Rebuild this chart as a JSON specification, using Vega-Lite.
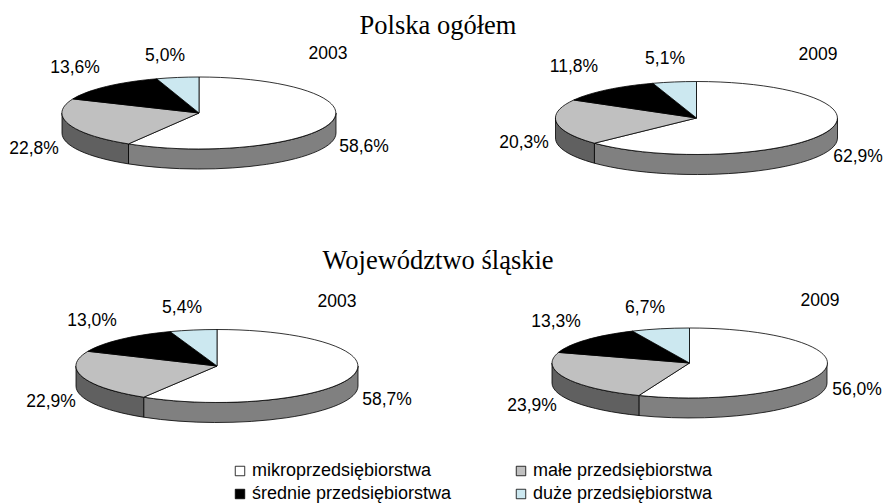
{
"$schema":"https://vega.github.io/schema/vega-lite/v6.json",
"width":884,"height":504,"padding":0,"autosize":"none","background":"white",
"config":{"view":{"stroke":null}},
"params":[{"name":"off","value":{
"PL03m":[156,32],"PL03a":[-174,34],"PL03s":[-133,-47],"PL03d":[-43,-59],"PL03":[120,-61],
"PL09m":[165,42],"PL09a":[-169,28],"PL09s":[-119,-48],"PL09d":[-28,-56],"PL09":[125,-60],
"SL03m":[179,35],"SL03a":[-157,37],"SL03s":[-116,-44],"SL03d":[-26,-57],"SL03":[129,-63],
"SL09m":[164,25],"SL09a":[-161,41],"SL09s":[-137,-43],"SL09d":[-48,-57],"SL09":[127,-64],
"Polska ogółem":[0,-89],"Województwo śląskie":[0,-104]}}],
"datasets":{
"slices":[
{"region":"Polska ogółem","year":"2003","slice":"mikroprzedsiębiorstwa","id":"PL03m","value":58.6,"label":"58,6%"},
{"region":"Polska ogółem","year":"2003","slice":"małe przedsiębiorstwa","id":"PL03a","value":22.8,"label":"22,8%"},
{"region":"Polska ogółem","year":"2003","slice":"średnie przedsiębiorstwa","id":"PL03s","value":13.6,"label":"13,6%"},
{"region":"Polska ogółem","year":"2003","slice":"duże przedsiębiorstwa","id":"PL03d","value":5.0,"label":"5,0%"},
{"region":"Polska ogółem","year":"2009","slice":"mikroprzedsiębiorstwa","id":"PL09m","value":62.9,"label":"62,9%"},
{"region":"Polska ogółem","year":"2009","slice":"małe przedsiębiorstwa","id":"PL09a","value":20.3,"label":"20,3%"},
{"region":"Polska ogółem","year":"2009","slice":"średnie przedsiębiorstwa","id":"PL09s","value":11.8,"label":"11,8%"},
{"region":"Polska ogółem","year":"2009","slice":"duże przedsiębiorstwa","id":"PL09d","value":5.1,"label":"5,1%"},
{"region":"Województwo śląskie","year":"2003","slice":"mikroprzedsiębiorstwa","id":"SL03m","value":58.7,"label":"58,7%"},
{"region":"Województwo śląskie","year":"2003","slice":"małe przedsiębiorstwa","id":"SL03a","value":22.9,"label":"22,9%"},
{"region":"Województwo śląskie","year":"2003","slice":"średnie przedsiębiorstwa","id":"SL03s","value":13.0,"label":"13,0%"},
{"region":"Województwo śląskie","year":"2003","slice":"duże przedsiębiorstwa","id":"SL03d","value":5.4,"label":"5,4%"},
{"region":"Województwo śląskie","year":"2009","slice":"mikroprzedsiębiorstwa","id":"SL09m","value":56.0,"label":"56,0%"},
{"region":"Województwo śląskie","year":"2009","slice":"małe przedsiębiorstwa","id":"SL09a","value":23.9,"label":"23,9%"},
{"region":"Województwo śląskie","year":"2009","slice":"średnie przedsiębiorstwa","id":"SL09s","value":13.3,"label":"13,3%"},
{"region":"Województwo śląskie","year":"2009","slice":"duże przedsiębiorstwa","id":"SL09d","value":6.7,"label":"6,7%"}
],
"panels":[
{"region":"Polska ogółem","year":"2003","id":"PL03"},
{"region":"Polska ogółem","year":"2009","id":"PL09"},
{"region":"Województwo śląskie","year":"2003","id":"SL03"},
{"region":"Województwo śląskie","year":"2009","id":"SL09"}
],
"titles":[{"region":"Polska ogółem"},{"region":"Województwo śląskie"}]
},
"encoding":{
"x":{"field":"year","type":"nominal","axis":null,"scale":{"type":"point","domain":["2003","2009"],"range":[208,693],"padding":0}},
"y":{"field":"region","type":"nominal","axis":null,"scale":{"type":"point","domain":["Polska ogółem","Województwo śląskie"],"range":[115,365],"padding":0}}
},
"resolve":{"scale":{"shape":"independent","color":"independent"}},
"layer":[
{"data":{"name":"slices"},
"transform":[{"filter":"indexof(['mikroprzedsiębiorstwa','małe przedsiębiorstwa'],datum.slice)>=0"}],
"mark":{"type":"point","filled":true,"size":4,"opacity":1,"stroke":"black","strokeWidth":0.8},
"encoding":{
"color":{"field":"slice","type":"nominal","legend":null,"scale":{"domain":["mikroprzedsiębiorstwa","małe przedsiębiorstwa"],"range":["#808080","#606060"]}},
"shape":{"field":"id","type":"nominal","legend":null,"scale":{"domain":["PL03m","PL03a","PL09m","PL09a","SL03m","SL03a","SL09m","SL09a"],"range":[
"M128 -2 L128 18 A137 36 0 0 1 -79.5 48.9 L-79.5 28.9 A137 36 0 0 0 128 -2 Z",
"M-79.5 28.9 L-79.5 48.9 A137 36 0 0 1 -146 18 L-146 -2 A137 36 0 0 0 -79.5 28.9 Z",
"M144.5 3 L144.5 23 A141 36.5 0 0 1 -98.6 48.2 L-98.6 28.2 A141 36.5 0 0 0 144.5 3 Z",
"M-98.6 28.2 L-98.6 48.2 A141 36.5 0 0 1 -137.5 23 L-137.5 3 A141 36.5 0 0 0 -98.6 28.2 Z",
"M150 1 L150 21 A141 36.5 0 0 1 -64.3 52.2 L-64.3 32.2 A141 36.5 0 0 0 150 1 Z",
"M-64.3 32.2 L-64.3 52.2 A141 36.5 0 0 1 -132 21 L-132 1 A141 36.5 0 0 0 -64.3 32.2 Z",
"M134 -2 L134 18 A137.5 35 0 0 1 -54.1 50.5 L-54.1 30.5 A137.5 35 0 0 0 134 -2 Z",
"M-54.1 30.5 L-54.1 50.5 A137.5 35 0 0 1 -141 18 L-141 -2 A137.5 35 0 0 0 -54.1 30.5 Z"
]}}
}},
{"data":{"name":"slices"},
"mark":{"type":"point","filled":true,"size":4,"opacity":1,"stroke":"black","strokeWidth":0.8},
"encoding":{
"color":{"field":"slice","type":"nominal","scale":{"domain":["mikroprzedsiębiorstwa","średnie przedsiębiorstwa","małe przedsiębiorstwa","duże przedsiębiorstwa"],"range":["#ffffff","#000000","#c0c0c0","#cce8f0"]},
"legend":{"title":null,"orient":"none","legendX":231,"legendY":462,"columns":2,"columnPadding":60,"rowPadding":5,"symbolType":"square","symbolSize":90,"symbolStrokeColor":"black","symbolStrokeWidth":0.8,"symbolOpacity":1,"labelFont":"Liberation Sans","labelFontSize":18,"labelColor":"black","labelOffset":3,"labelLimit":400}},
"shape":{"field":"id","type":"nominal","legend":null,"scale":{"domain":["PL03m","PL03a","PL03s","PL03d","PL09m","PL09a","PL09s","PL09d","SL03m","SL03a","SL03s","SL03d","SL09m","SL09a","SL09s","SL09d"],"range":[
"M-9 -2 L-9 -38 A137 36 0 1 1 -79.5 28.9 Z",
"M-9 -2 L-79.5 28.9 A137 36 0 0 1 -135.1 -16.1 Z",
"M-9 -2 L-135.1 -16.1 A137 36 0 0 1 -51.3 -36.2 Z",
"M-9 -2 L-51.3 -36.2 A137 36 0 0 1 -9 -38 Z",
"M3.5 3 L3.5 -33.5 A141 36.5 0 1 1 -98.6 28.2 Z",
"M3.5 3 L-98.6 28.2 A141 36.5 0 0 1 -119.2 -15 Z",
"M3.5 3 L-119.2 -15 A141 36.5 0 0 1 -40.1 -31.7 Z",
"M3.5 3 L-40.1 -31.7 A141 36.5 0 0 1 3.5 -33.5 Z",
"M9 1 L9 -35.5 A141 36.5 0 1 1 -64.3 32.2 Z",
"M9 1 L-64.3 32.2 A141 36.5 0 0 1 -120.1 -13.7 Z",
"M9 1 L-120.1 -13.7 A141 36.5 0 0 1 -37.9 -33.4 Z",
"M9 1 L-37.9 -33.4 A141 36.5 0 0 1 9 -35.5 Z",
"M-3.5 -2 L-3.5 -37 A137.5 35 0 1 1 -54.1 30.5 Z",
"M-3.5 -2 L-54.1 30.5 A137.5 35 0 0 1 -134.5 -12.6 Z",
"M-3.5 -2 L-134.5 -12.6 A137.5 35 0 0 1 -60.5 -33.9 Z",
"M-3.5 -2 L-60.5 -33.9 A137.5 35 0 0 1 -3.5 -37 Z"
]}}
}},
{"data":{"name":"slices"},
"mark":{"type":"text","font":"Liberation Sans","fontSize":17.5,"color":"black","align":"center","baseline":"middle","dx":{"expr":"off[datum.id][0]"},"dy":{"expr":"off[datum.id][1]"}},
"encoding":{"text":{"field":"label","type":"nominal"}}},
{"data":{"name":"panels"},
"mark":{"type":"text","font":"Liberation Sans","fontSize":17.5,"color":"black","align":"center","baseline":"middle","dx":{"expr":"off[datum.id][0]"},"dy":{"expr":"off[datum.id][1]"}},
"encoding":{"text":{"field":"year","type":"nominal"}}},
{"data":{"name":"titles"},
"mark":{"type":"text","font":"Liberation Serif","fontSize":26.5,"color":"black","align":"center","baseline":"middle","dy":{"expr":"off[datum.region][1]"}},
"encoding":{"x":{"value":438},"text":{"field":"region","type":"nominal"}}}
]
}
